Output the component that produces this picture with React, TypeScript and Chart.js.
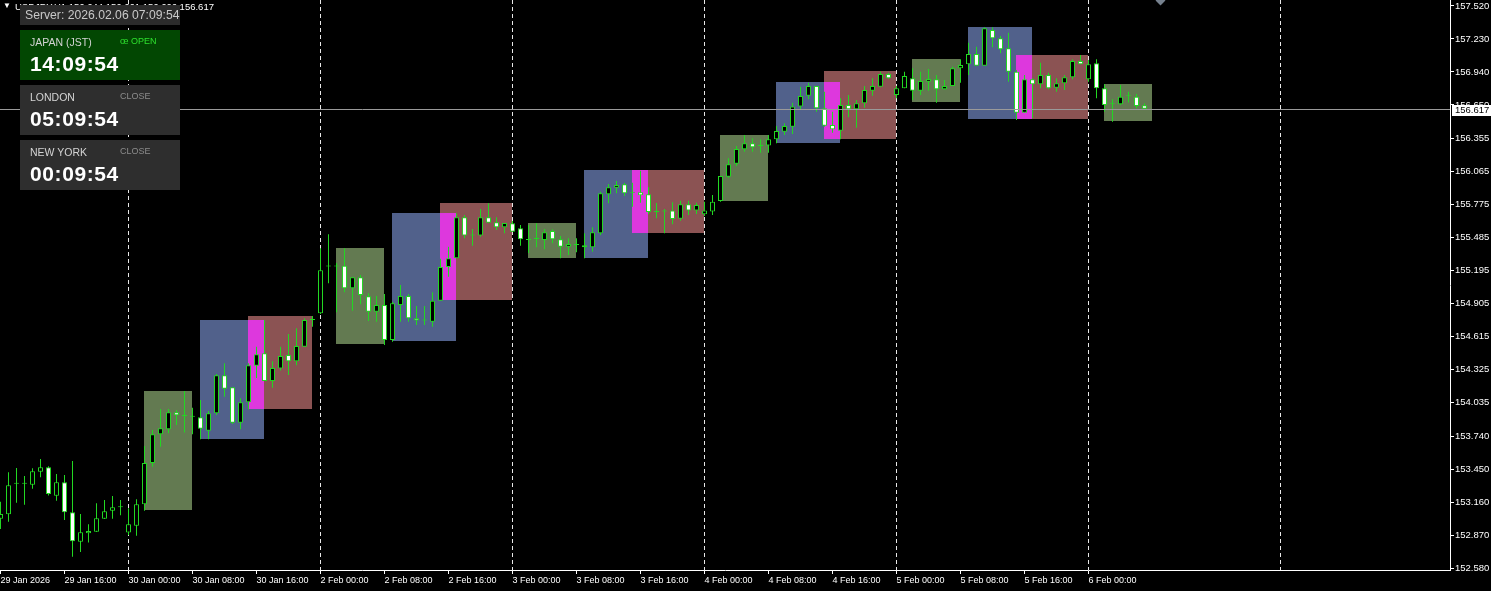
import React, { useEffect, useRef } from "react";
import { Chart, registerables } from "chart.js";

Chart.register(...registerables);

// ---------- data ----------
const xLabels = [
  "29 Jan 2026", "29 Jan 16:00", "30 Jan 00:00", "30 Jan 08:00", "30 Jan 16:00",
  "2 Feb 00:00", "2 Feb 08:00", "2 Feb 16:00", "3 Feb 00:00", "3 Feb 08:00", "3 Feb 16:00",
  "4 Feb 00:00", "4 Feb 08:00", "4 Feb 16:00", "5 Feb 00:00", "5 Feb 08:00", "5 Feb 16:00",
  "6 Feb 00:00",
];
const xLabelIdx = [0, 8, 16, 24, 32, 40, 48, 56, 64, 72, 80, 88, 96, 104, 112, 120, 128, 136];
const dayStartIdx = [16, 40, 64, 88, 112, 136, 160];

const yTicks = [
  157.52, 157.23, 156.94, 156.65, 156.355, 156.065, 155.775, 155.485, 155.195,
  154.905, 154.615, 154.325, 154.035, 153.74, 153.45, 153.16, 152.87, 152.58,
];
const yMin = 152.5634;
const yMax = 157.5727;
const xMin = -0.0625;
const xMax = 181.1875;

const opens = [
  153.014, 153.053, 153.322, 153.322, 153.313, 153.427, 153.466, 153.216, 153.334, 153.071,
  152.812, 152.886, 152.900, 153.014, 153.085, 153.115, 152.892, 152.953, 153.141, 153.504,
  153.756, 153.800, 153.949, 153.917, 153.911, 153.905, 153.788, 153.940, 154.275, 154.169,
  153.858, 154.037, 154.359, 154.468, 154.224, 154.335, 154.453, 154.397, 154.526, 154.761,
  154.819, 155.231, 155.231, 155.237, 155.039, 155.136, 154.969, 154.833, 154.892, 154.585,
  154.892, 154.971, 154.776, 154.755, 154.746, 154.930, 155.226, 155.303, 155.663, 155.502,
  155.502, 155.663, 155.619, 155.575, 155.611, 155.566, 155.464, 155.472, 155.464, 155.543,
  155.470, 155.405, 155.420, 155.417, 155.400, 155.522, 155.865, 155.923, 155.953, 155.879,
  155.883, 155.865, 155.709, 155.714, 155.723, 155.650, 155.777, 155.723, 155.689, 155.714,
  155.806, 156.020, 156.134, 156.261, 156.314, 156.290, 156.293, 156.349, 156.415, 156.459,
  156.636, 156.732, 156.817, 156.621, 156.474, 156.424, 156.650, 156.612, 156.665, 156.776,
  156.811, 156.922, 156.738, 156.797, 156.885, 156.776, 156.855, 156.876, 156.788, 156.817,
  156.972, 157.008, 157.098, 156.995, 157.309, 157.236, 157.148, 156.943, 156.582, 156.876,
  156.832, 156.914, 156.802, 156.841, 156.893, 157.037, 156.876, 157.016, 156.797, 156.656,
  156.656, 156.732, 156.723, 156.647,
];
const highs = [
  153.164, 153.422, 153.460, 153.390, 153.457, 153.539, 153.475, 153.407, 153.398, 153.521,
  153.056, 152.965, 153.150, 153.179, 153.214, 153.179, 153.106, 153.185, 153.653, 153.794,
  153.978, 153.978, 153.970, 154.137, 153.990, 154.058, 153.961, 154.286, 154.380, 154.169,
  154.072, 154.380, 154.526, 154.761, 154.397, 154.526, 154.638, 154.688, 154.776, 154.796,
  155.391, 155.514, 155.261, 155.391, 155.136, 155.156, 154.995, 154.971, 154.989, 154.921,
  155.068, 154.989, 154.883, 154.883, 155.004, 155.299, 155.405, 155.698, 155.683, 155.561,
  155.736, 155.786, 155.663, 155.613, 155.631, 155.595, 155.595, 155.610, 155.561, 155.558,
  155.499, 155.479, 155.479, 155.522, 155.575, 155.888, 155.956, 155.982, 155.967, 155.967,
  156.073, 155.927, 155.788, 155.735, 155.796, 155.809, 155.809, 155.791, 155.800, 155.859,
  156.026, 156.182, 156.290, 156.387, 156.358, 156.349, 156.387, 156.466, 156.489, 156.670,
  156.811, 156.846, 156.817, 156.767, 156.591, 156.709, 156.738, 156.694, 156.817, 156.885,
  156.943, 156.934, 156.817, 156.943, 156.972, 156.943, 156.966, 156.914, 156.870, 156.987,
  157.052, 157.197, 157.162, 157.333, 157.333, 157.256, 157.285, 156.957, 156.914, 156.885,
  157.022, 156.934, 156.885, 156.914, 157.052, 157.089, 157.045, 157.052, 156.832, 156.700,
  156.826, 156.767, 156.747, 156.665,
];
const lows = [
  152.924, 152.988, 153.155, 153.137, 153.278, 153.378, 153.219, 153.173, 153.003, 152.680,
  152.722, 152.804, 152.897, 153.011, 153.014, 153.044, 152.871, 152.865, 153.085, 153.471,
  153.647, 153.765, 153.838, 153.771, 153.756, 153.712, 153.712, 153.926, 154.087, 153.847,
  153.800, 153.976, 154.251, 154.224, 154.166, 154.317, 154.277, 154.362, 154.523, 154.702,
  154.813, 155.083, 154.828, 155.004, 154.842, 154.899, 154.752, 154.746, 154.541, 154.570,
  154.746, 154.746, 154.717, 154.717, 154.702, 154.930, 155.141, 155.303, 155.479, 155.414,
  155.493, 155.616, 155.551, 155.522, 155.537, 155.412, 155.350, 155.400, 155.382, 155.435,
  155.303, 155.332, 155.356, 155.303, 155.361, 155.507, 155.786, 155.874, 155.850, 155.756,
  155.791, 155.692, 155.654, 155.522, 155.603, 155.633, 155.683, 155.692, 155.675, 155.683,
  155.800, 156.011, 156.114, 156.240, 156.240, 156.231, 156.231, 156.314, 156.387, 156.395,
  156.606, 156.700, 156.591, 156.459, 156.407, 156.349, 156.542, 156.451, 156.626, 156.732,
  156.806, 156.878, 156.709, 156.797, 156.694, 156.738, 156.776, 156.670, 156.782, 156.817,
  156.846, 156.914, 156.995, 156.995, 157.157, 157.104, 156.855, 156.518, 156.582, 156.533,
  156.797, 156.788, 156.767, 156.782, 156.876, 157.008, 156.855, 156.709, 156.591, 156.503,
  156.650, 156.671, 156.621, 156.606,
];
const closes = [
  153.056, 153.308, 153.322, 153.322, 153.431, 153.466, 153.232, 153.334, 153.071, 152.816,
  152.895, 152.906, 153.018, 153.079, 153.115, 153.115, 152.965, 153.141, 153.504, 153.756,
  153.809, 153.949, 153.923, 153.917, 153.911, 153.805, 153.940, 154.275, 154.157, 153.858,
  154.037, 154.362, 154.459, 154.224, 154.339, 154.444, 154.397, 154.532, 154.761, 154.761,
  155.197, 155.231, 155.231, 155.039, 155.136, 154.980, 154.833, 154.892, 154.585, 154.907,
  154.971, 154.776, 154.755, 154.755, 154.930, 155.226, 155.303, 155.663, 155.502, 155.502,
  155.663, 155.616, 155.575, 155.613, 155.537, 155.470, 155.464, 155.472, 155.531, 155.470,
  155.405, 155.429, 155.420, 155.400, 155.531, 155.874, 155.927, 155.947, 155.874, 155.879,
  155.856, 155.709, 155.709, 155.714, 155.647, 155.777, 155.723, 155.771, 155.723, 155.800,
  156.026, 156.129, 156.264, 156.314, 156.279, 156.290, 156.349, 156.422, 156.466, 156.636,
  156.729, 156.817, 156.621, 156.468, 156.436, 156.650, 156.612, 156.665, 156.782, 156.817,
  156.922, 156.885, 156.797, 156.905, 156.776, 156.861, 156.878, 156.788, 156.817, 156.972,
  157.001, 157.098, 156.995, 157.324, 157.236, 157.139, 156.943, 156.582, 156.876, 156.832,
  156.914, 156.797, 156.841, 156.893, 157.037, 157.008, 157.008, 156.797, 156.650, 156.656,
  156.723, 156.732, 156.641, 156.617,
];
const lastPrice = 156.617;

// session boxes (bar index from/to, price high/low)
const tokyoFrom = [18, 42, 66, 90, 114, 138];
const tokyoTo = [24, 48, 72, 96, 120, 144];
const tokyoHigh = [154.137, 155.391, 155.611, 156.387, 157.054, 156.835];
const tokyoLow = [153.091, 154.55, 155.305, 155.806, 156.676, 156.51];

const londonFrom = [25, 49, 73, 97, 121];
const londonTo = [33, 57, 81, 105, 129];
const londonHigh = [154.761, 155.701, 156.079, 156.852, 157.335];
const londonLow = [153.715, 154.576, 155.305, 156.316, 156.527];

const newYorkFrom = [31, 55, 79, 103, 127];
const newYorkTo = [39, 64, 88, 112, 136];
const newYorkHigh = [154.796, 155.789, 156.079, 156.949, 157.089];
const newYorkLow = [153.978, 154.936, 155.525, 156.351, 156.527];

// ---------- styles ----------
const CANDLE = "#22d822";
const TOKYO_BG = "#637a51";
const LONDON_BG = "#51618b";
const NEWYORK_BG = "#8b5353";
const OVERLAP_BG = "#dd38dd";
const AXIS_FONT = "'Liberation Sans', Arial, sans-serif";

const sessionPlugin = {
  id: "sessions",
  beforeDraw(chart: any) {
    const { ctx, width, height } = chart;
    ctx.save();
    ctx.fillStyle = "#000";
    ctx.fillRect(0, 0, width, height);
    ctx.restore();
  },
  beforeDatasetsDraw(chart: any) {
    const { ctx, chartArea } = chart;
    const xs = chart.scales.x;
    const ys = chart.scales.y;
    ctx.save();
    ctx.beginPath();
    ctx.rect(chartArea.left, chartArea.top, chartArea.right - chartArea.left, chartArea.bottom - chartArea.top);
    ctx.clip();
    const box = (f: number, t: number, h: number, l: number) => ({
      x1: Math.floor(xs.getPixelForValue(f)),
      x2: Math.floor(xs.getPixelForValue(t)),
      y1: Math.round(ys.getPixelForValue(h)),
      y2: Math.round(ys.getPixelForValue(l)),
    });
    const fill = (b: any, c: string) => {
      ctx.fillStyle = c;
      ctx.fillRect(b.x1, b.y1, b.x2 - b.x1, b.y2 - b.y1);
    };
    tokyoFrom.forEach((f, k) => fill(box(f, tokyoTo[k], tokyoHigh[k], tokyoLow[k]), TOKYO_BG));
    londonFrom.forEach((f, k) => fill(box(f, londonTo[k], londonHigh[k], londonLow[k]), LONDON_BG));
    newYorkFrom.forEach((f, k) => fill(box(f, newYorkTo[k], newYorkHigh[k], newYorkLow[k]), NEWYORK_BG));
    londonFrom.forEach((f, k) => {
      const a = box(f, londonTo[k], londonHigh[k], londonLow[k]);
      const b = box(newYorkFrom[k], newYorkTo[k], newYorkHigh[k], newYorkLow[k]);
      const o = { x1: Math.max(a.x1, b.x1), x2: Math.min(a.x2, b.x2), y1: Math.max(a.y1, b.y1), y2: Math.min(a.y2, b.y2) };
      if (o.x2 > o.x1 && o.y2 > o.y1) fill(o, OVERLAP_BG);
    });
    // day separators
    ctx.strokeStyle = "#e8e8e8";
    ctx.lineWidth = 1;
    ctx.setLineDash([4, 3]);
    dayStartIdx.forEach((d) => {
      const px = Math.floor(xs.getPixelForValue(d)) + 0.5;
      ctx.beginPath();
      ctx.moveTo(px, chartArea.top);
      ctx.lineTo(px, chartArea.bottom);
      ctx.stroke();
    });
    ctx.restore();
  },
  afterDatasetsDraw(chart: any) {
    const { ctx, chartArea } = chart;
    const ys = chart.scales.y;
    const py = Math.round(ys.getPixelForValue(lastPrice)) + 0.5;
    ctx.save();
    ctx.strokeStyle = "#9a9a9a";
    ctx.lineWidth = 1;
    ctx.beginPath();
    ctx.moveTo(chartArea.left, py);
    ctx.lineTo(chartArea.right, py);
    ctx.stroke();
    ctx.restore();
  },
  afterDraw(chart: any) {
    const { ctx, chartArea } = chart;
    const ys = chart.scales.y;
    const py = Math.round(ys.getPixelForValue(lastPrice));
    ctx.save();
    ctx.fillStyle = "#ffffff";
    ctx.fillRect(chartArea.right + 2, py - 4, 39, 11);
    ctx.fillStyle = "#000000";
    ctx.font = `9.5px ${AXIS_FONT}`;
    ctx.textBaseline = "middle";
    ctx.textAlign = "left";
    ctx.fillText(lastPrice.toFixed(3), chartArea.right + 5, py + 1.5);
    ctx.restore();
  },
};

function CandleChart() {
  const ref = useRef<HTMLCanvasElement | null>(null);
  useEffect(() => {
    if (!ref.current) return;
    const bodyData = opens.map((o, i) => ({ x: i, y: [Math.min(o, closes[i]), Math.max(o, closes[i])] }));
    const wickData = opens.map((_, i) => ({ x: i, y: [lows[i], highs[i]] }));
    const bodyColors = opens.map((o, i) => (closes[i] < o ? "#ffffff" : "#000000"));
    const chart = new Chart(ref.current, {
      type: "bar",
      data: {
        datasets: [
          {
            label: "wick",
            data: wickData as any,
            backgroundColor: CANDLE,
            borderWidth: 0,
            barThickness: 1,
            grouped: false,
            order: 2,
            inflateAmount: 0,
          } as any,
          {
            label: "body",
            data: bodyData as any,
            backgroundColor: bodyColors,
            borderColor: CANDLE,
            borderWidth: 1,
            borderSkipped: false,
            barThickness: 5,
            grouped: false,
            order: 1,
            minBarLength: 1,
            inflateAmount: 0,
          } as any,
        ],
      },
      options: {
        animation: false,
        responsive: false,
        devicePixelRatio: 1,
        events: [],
        layout: { padding: 0 },
        plugins: { legend: { display: false }, tooltip: { enabled: false } },
        scales: {
          x: {
            type: "linear",
            min: xMin,
            max: xMax,
            offset: false,
            position: "bottom",
            afterBuildTicks: (s: any) => {
              s.ticks = xLabelIdx.map((v) => ({ value: v }));
            },
            afterFit: (s: any) => {
              s.height = 21;
              s.paddingLeft = 0;
              s.paddingRight = 0;
            },
            ticks: {
              autoSkip: false,
              maxRotation: 0,
              minRotation: 0,
              align: "start",
              padding: 1,
              color: "#ffffff",
              font: { family: AXIS_FONT, size: 9 },
              callback: (_v: any, i: number) => xLabels[i],
            },
            grid: { offset: false, drawOnChartArea: false, drawTicks: true, tickLength: 4, color: "#ffffff" },
            border: { display: true, color: "#ffffff" },
          } as any,
          y: {
            type: "linear",
            position: "right",
            min: yMin,
            max: yMax,
            afterBuildTicks: (s: any) => {
              s.ticks = yTicks.map((v) => ({ value: v }));
            },
            afterFit: (s: any) => {
              s.width = 41;
              s.paddingTop = 0;
              s.paddingBottom = 0;
            },
            ticks: {
              padding: 1,
              color: "#ffffff",
              font: { family: AXIS_FONT, size: 9.5 },
              callback: (v: any) => Number(v).toFixed(3),
            },
            grid: { drawOnChartArea: false, drawTicks: true, tickLength: 4, color: "#ffffff" },
            border: { display: true, color: "#ffffff" },
          } as any,
        },
      } as any,
      plugins: [sessionPlugin],
    });
    return () => chart.destroy();
  }, []);
  return <canvas ref={ref} width={1491} height={591} style={{ position: "absolute", left: 0, top: 0, width: 1491, height: 591 }} />;
}

const PANEL_FONT = "'Liberation Sans', Arial, sans-serif";

function SessionCard(props: { top: number; bg: string; name: string; status: string; statusColor: string; time: string }) {
  return (
    <div style={{ position: "absolute", left: 20, top: props.top, width: 160, height: 50, background: props.bg, fontFamily: PANEL_FONT }}>
      <div style={{ position: "absolute", left: 10, top: 6.4, fontSize: 10.5, lineHeight: "12px", color: "#d4d4d4", whiteSpace: "nowrap" }}>{props.name}</div>
      <div style={{ position: "absolute", left: 100, top: 5.7, fontSize: 9, lineHeight: "11px", color: props.statusColor, whiteSpace: "nowrap" }}>{props.status}</div>
      <div style={{ position: "absolute", left: 10, top: 21.7, fontSize: 21, lineHeight: "24px", fontWeight: "bold", letterSpacing: 0.6, color: "#ffffff", whiteSpace: "nowrap" }}>{props.time}</div>
    </div>
  );
}

export default function App() {
  return (
    <div style={{ position: "fixed", left: 0, top: 0, width: 1491, height: 591, overflow: "hidden", background: "#000" }}>
      <CandleChart />
      <div style={{ position: "absolute", left: 3, top: 1, fontSize: 8, lineHeight: "10px", color: "#fff", fontFamily: PANEL_FONT }}>▼</div>
      <div style={{ position: "absolute", left: 15, top: 1, fontSize: 9.5, lineHeight: "12px", color: "#fff", fontFamily: PANEL_FONT, whiteSpace: "nowrap" }}>
        USDJPY,H1 156.644 156.661 156.606 156.617
      </div>
      <div style={{ position: "absolute", left: 1156.5, top: -3.5, width: 7, height: 7, background: "#76818e", transform: "rotate(45deg)" }} />
      <div style={{ position: "absolute", left: 20, top: 5, width: 160, height: 20, background: "#2b2b2b", fontFamily: PANEL_FONT }}>
        <div style={{ position: "absolute", left: 5, top: 0, fontSize: 12.2, lineHeight: "20px", color: "#c8c8c8", whiteSpace: "nowrap" }}>Server: 2026.02.06 07:09:54</div>
      </div>
      <SessionCard top={30} bg="#024702" name="JAPAN (JST)" status="œ OPEN" statusColor="#2ee02e" time="14:09:54" />
      <SessionCard top={85} bg="#2e2e2e" name="LONDON" status="CLOSE" statusColor="#8c8c8c" time="05:09:54" />
      <SessionCard top={140} bg="#2e2e2e" name="NEW YORK" status="CLOSE" statusColor="#8c8c8c" time="00:09:54" />
    </div>
  );
}
